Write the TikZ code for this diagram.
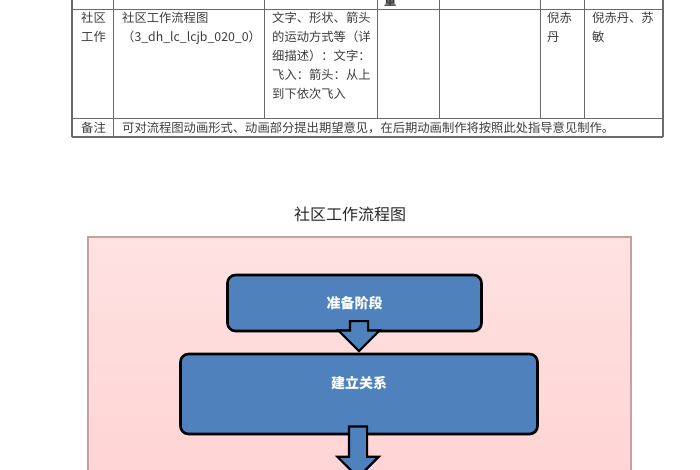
\documentclass[tikz,border=0pt]{standalone}
\usepackage{fontspec}
\setmainfont{Noto Sans CJK SC}
\usetikzlibrary{shapes.arrows,shadows}

\definecolor{tablegray}{HTML}{3C3C3C}
\definecolor{ruleline}{HTML}{6A6A6A}
\definecolor{boxblue}{HTML}{4F81BD}
\definecolor{pinktop}{HTML}{FFE2E2}
\definecolor{pinkbottom}{HTML}{FFD3D3}
\definecolor{pinkedge}{HTML}{C4A2A2}

\begin{document}
\begin{tikzpicture}[x=1pt, y=-1pt]
    \tikzstyle{cell}=[anchor=north west, inner sep=0, text=tablegray, align=left,
        font=\fontsize{12.3}{19}\selectfont]
    \tikzstyle{stage}=[rectangle, rounded corners=8, draw=black, line width=2.6pt,
        fill=boxblue, text=white, font=\fontsize{14}{14}\selectfont\bfseries,
        drop shadow={opacity=0.25, shadow xshift=1pt, shadow yshift=-1.5pt}]
    \tikzstyle{stagetext}=[text=white, font=\fontsize{14}{14}\selectfont\bfseries]
    \tikzstyle{downarrow}=[single arrow, draw=black, line width=2.2pt, fill=boxblue,
        inner xsep=0, inner ysep=8, single arrow head extend=11.5,
        rotate=-90, anchor=tip]

    \useasboundingbox (0, 0) rectangle (700, 470);

    % table rules
    \draw [ruleline, line width=0.8pt] (72, 9) -- (663, 9);
    \draw [ruleline, line width=0.8pt] (72, 118) -- (663, 118);
    \draw [ruleline, line width=1.2pt] (72, 137) -- (663, 137);
    \foreach \x in {264, 377, 439, 540, 584}
        \draw [ruleline, line width=0.8pt] (\x, -2) -- (\x, 118);
    \draw [ruleline, line width=1.2pt] (72, -2) -- (72, 137);
    \draw [ruleline, line width=0.8pt] (113, -2) -- (113, 137);
    \draw [ruleline, line width=1.2pt] (663, -2) -- (663, 137);

    % table texts
    \node (head4) at (384, 0.5) [anchor=west, inner sep=0, text=tablegray,
        font=\fontsize{12.3}{19}\selectfont\bfseries] {量};
    \node (work) at (81, 12) [cell] {社区\\工作};
    \node (chart) at (122, 12) [cell] {社区工作流程图\\（3\_dh\_lc\_lcjb\_020\_0）};
    \node (anim) at (272, 12) [cell] {文字、形状、箭头\\的运动方式等（详\\细描述）：文字：\\飞入：箭头：从上\\到下依次飞入};
    \node (author) at (547, 12) [cell] {倪赤\\丹};
    \node (check) at (592, 12) [cell] {倪赤丹、苏\\敏};
    \node (note) at (81, 128) [cell, anchor=west] {备注};
    \node (notetext) at (122, 128) [cell, anchor=west] {可对流程图动画形式、动画部分提出期望意见，在后期动画制作将按照此处指导意见制作。};

    % flow chart
    \node (title) at (350, 214) [text=black!85, font=\fontsize{16}{16}\selectfont] {社区工作流程图};

    \draw [pinkedge, line width=1.2pt, top color=pinktop, bottom color=pinkbottom]
        (88, 237) rectangle (631, 490);

    \node (prep) at (354.5, 303) [stage, minimum width=254, minimum height=56] {准备阶段};
    \node (rel) at (359, 394) [stage, minimum width=357, minimum height=80,
        label={[stagetext, yshift=11]center:建立关系}] {};

    \coordinate (next) at (358, 479);
    \node (arr1) at (rel.north) [downarrow, minimum height=30] {};
    \node (arr2) at (next) [downarrow, minimum height=51] {};

\end{tikzpicture}
\end{document}
